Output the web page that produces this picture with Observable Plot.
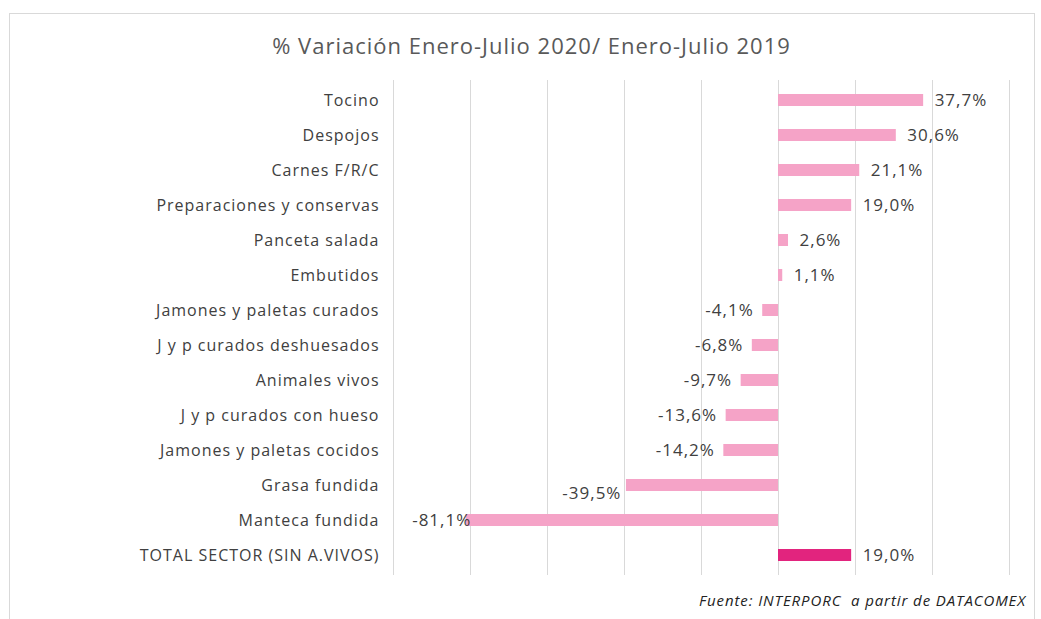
<!DOCTYPE html>
<html>
<head>
<meta charset="utf-8">
<script src="https://cdn.jsdelivr.net/npm/d3@7"></script>
<script src="https://cdn.jsdelivr.net/npm/@observablehq/plot@0.6"></script>
<style>
  html, body { margin: 0; padding: 0; background: #fff; }
  #wrap { position: relative; width: 1041px; height: 619px; overflow: hidden; font-family: "Open Sans", sans-serif; }
  #frame { position: absolute; left: 9px; top: 13px; width: 1026px; height: 610px; border: 1px solid #d9d9d9; box-sizing: border-box; }
  #title { position: absolute; left: 0; top: 28px; width: 1063px; text-align: center; font-size: 22px; letter-spacing: 1px; color: #595959; line-height: 34px; }
  #chart { position: absolute; left: 0; top: 0; }
  #foot { position: absolute; right: 15px; top: 590px; font-size: 15px; letter-spacing: 0.9px; font-style: italic; color: #222; line-height: 20px; }
</style>
</head>
<body>
<div id="wrap">
  <div id="frame"></div>
  <div id="chart"></div>
  <div id="title">% Variación Enero-Julio 2020/ Enero-Julio 2019</div>
  <div id="foot">Fuente: INTERPORC&nbsp; a partir de DATACOMEX</div>
</div>
<script>
const categories = [
  "Tocino",
  "Despojos",
  "Carnes F/R/C",
  "Preparaciones y conservas",
  "Panceta salada",
  "Embutidos",
  "Jamones y paletas curados",
  "J y p curados deshuesados",
  "Animales vivos",
  "J y p curados con hueso",
  "Jamones y paletas cocidos",
  "Grasa fundida",
  "Manteca fundida",
  "TOTAL SECTOR (SIN A.VIVOS)"
];
const values = [37.7, 30.6, 21.1, 19.0, 2.6, 1.1, -4.1, -6.8, -9.7, -13.6, -14.2, -39.5, -81.1, 19.0];
const gridTicks = [-100, -80, -60, -40, -20, 0, 20, 40, 60];

const data = categories.map((c, i) => ({cat: c, v: values[i], total: c.startsWith("TOTAL")}));
const fmt = v => v.toFixed(1).replace(".", ",") + "%";

const chart = Plot.plot({
  width: 1041,
  height: 619,
  marginLeft: 393,
  marginRight: 32,
  marginTop: 80,
  marginBottom: 44,
  style: {fontFamily: "Open Sans, sans-serif", background: "transparent", letterSpacing: "1px"},
  x: {domain: [-100, 60], axis: null},
  y: {domain: categories, paddingInner: 0.66, paddingOuter: 0.33, label: null},
  marks: [
    Plot.ruleX(gridTicks, {stroke: "#d9d9d9", strokeWidth: 1, strokeOpacity: 1}),
    Plot.barX(data, {x: "v", y: "cat", fill: d => d.total ? "#e2247e" : "#f5a3c7"}),
    Plot.axisY({tickSize: 0, tickPadding: 14, fontSize: 16, color: "#404040", label: null}),
    Plot.text(data.filter(d => d.v >= 0), {x: "v", y: "cat", text: d => fmt(d.v), textAnchor: "start", dx: 11, fontSize: 17, fill: "#404040"}),
    Plot.text(data.filter(d => d.v < 0 && d.v > -30), {x: "v", y: "cat", text: d => fmt(d.v), textAnchor: "end", dx: -9, fontSize: 17, fill: "#404040"}),
    Plot.text(data.filter(d => d.v <= -30 && d.v > -60), {x: "v", y: "cat", text: d => fmt(d.v), textAnchor: "end", dx: -5, dy: 8, fontSize: 17, fill: "#404040"}),
    Plot.text(data.filter(d => d.v <= -60), {x: "v", y: "cat", text: d => fmt(d.v), textAnchor: "end", dx: 5, fontSize: 17, fill: "#404040"})
  ]
});
document.getElementById("chart").appendChild(chart);
</script>
</body>
</html>
